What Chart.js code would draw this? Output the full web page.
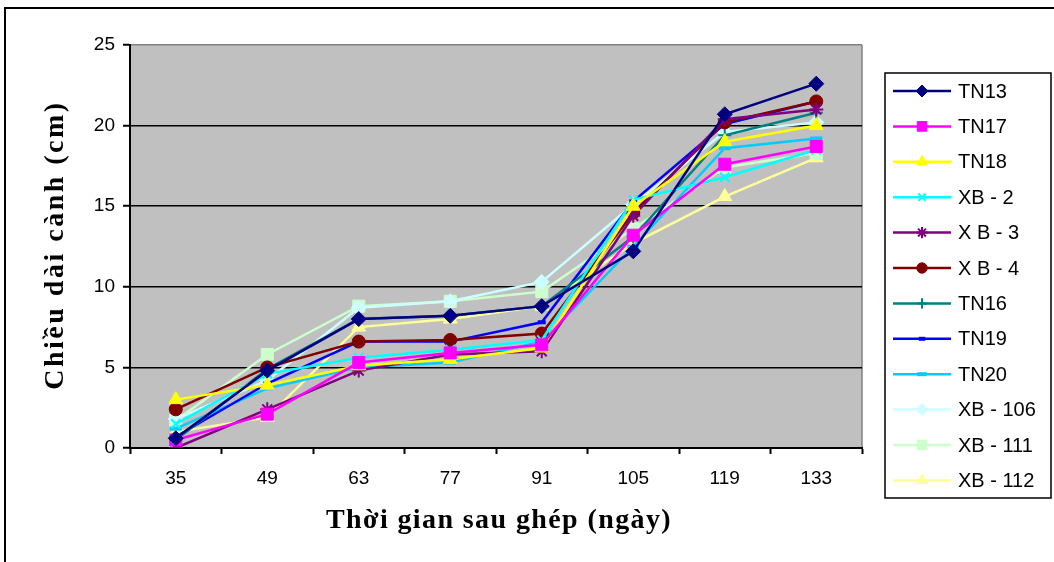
<!DOCTYPE html>
<html>
<head>
<meta charset="utf-8">
<script src="https://cdn.jsdelivr.net/npm/chart.js@4/dist/chart.umd.min.js"></script>
<style>
  html, body { margin: 0; padding: 0; background: #fff; }
  #wrap { position: relative; width: 1054px; height: 562px; }
  #frame { position: absolute; left: 4px; top: 7px; right: -4px; bottom: -4px; border-left: 2px solid #000; border-top: 2px solid #000; }
  canvas { position: absolute; left: 0; top: 0; }
</style>
</head>
<body>
<div id="wrap">
  <div id="frame"></div>
  <canvas id="chart" width="1054" height="562"></canvas>
</div>
<script>
const days = ['35', '49', '63', '77', '91', '105', '119', '133'];
const xTitle = 'Thời gian sau ghép (ngày)';
const yTitle = 'Chiều dài cành (cm)';

const tn13 = [0.6, 4.8, 8.0, 8.2, 8.8, 12.2, 20.7, 22.6];
const tn17 = [0.5, 2.1, 5.3, 5.9, 6.4, 13.2, 17.6, 18.7];
const tn18 = [3.0, 3.9, 5.1, 5.5, 6.2, 15.0, 19.0, 20.0];
const xb2 = [1.5, 4.6, 5.6, 6.1, 6.7, 15.4, 16.8, 18.5];
const xb3 = [0.0, 2.4, 4.8, 5.8, 6.0, 14.4, 20.4, 21.0];
const xb4 = [2.4, 5.0, 6.6, 6.7, 7.1, 14.6, 20.2, 21.5];
const tn16 = [0.5, 4.9, 8.0, 8.2, 8.8, 13.1, 19.4, 20.8];
const tn19 = [0.7, 4.0, 6.6, 6.6, 7.8, 15.3, 20.1, 21.5];
const tn20 = [1.2, 3.7, 5.0, 5.3, 6.6, 12.5, 18.6, 19.2];
const xb106 = [1.8, 4.2, 8.7, 9.1, 10.3, 15.1, 19.6, 20.2];
const xb111 = [1.7, 5.8, 8.8, 9.1, 9.7, 13.6, 17.4, 18.3];
const xb112 = [1.0, 1.9, 7.5, 8.0, 8.8, 12.7, 15.6, 18.0];

function series(label, data, color, style, radius, markLine) {
  return {
    label: label,
    data: data,
    borderColor: color,
    backgroundColor: color,
    borderWidth: 2.5,
    pointStyle: style,
    pointRadius: radius,
    pointBorderWidth: markLine,
    pointBackgroundColor: color,
    pointBorderColor: color,
    tension: 0
  };
}

const datasets = [
  series('TN13', tn13, '#000080', 'rectRot', 7.5, 1),
  series('TN17', tn17, '#FF00FF', 'rect', 8.5, 1),
  series('TN18', tn18, '#FFFF00', 'triangle', 8, 1),
  series('XB - 2', xb2, '#00FFFF', 'crossRot', 6.5, 2),
  series('X B - 3', xb3, '#800080', 'star', 7, 2),
  series('X B - 4', xb4, '#800000', 'circle', 6.5, 1),
  series('TN16', tn16, '#008080', 'cross', 6.5, 2),
  series('TN19', tn19, '#0000FF', 'line', 4, 4),
  series('TN20', tn20, '#00CCFF', 'line', 6, 4),
  series('XB - 106', xb106, '#CCFFFF', 'rectRot', 7.5, 1),
  series('XB - 111', xb111, '#CCFFCC', 'rect', 8.5, 1),
  series('XB - 112', xb112, '#FFFF99', 'triangle', 8, 1)
];

// gray plot background
const plotBg = {
  id: 'plotBg',
  beforeDraw(chart) {
    const { ctx, chartArea: a } = chart;
    ctx.save();
    ctx.fillStyle = '#C0C0C0';
    ctx.fillRect(a.left, a.top, a.right - a.left, a.bottom - a.top);
    ctx.strokeStyle = '#808080';
    ctx.lineWidth = 1.5;
    ctx.beginPath();
    ctx.moveTo(a.right, a.top);
    ctx.lineTo(a.right, a.bottom);
    ctx.stroke();
    ctx.restore();
  }
};

// axis titles, spaced out like the original
const axisTitles = {
  id: 'axisTitles',
  afterDraw(chart) {
    const ctx = chart.ctx;
    ctx.save();
    ctx.fillStyle = '#000';
    ctx.textAlign = 'center';
    ctx.textBaseline = 'alphabetic';
    ctx.font = 'bold 28px "Liberation Serif", "Times New Roman", serif';
    ctx.letterSpacing = '1.4px';
    ctx.fillText(xTitle, 499, 528);
    ctx.translate(63, 245);
    ctx.rotate(-Math.PI / 2);
    ctx.letterSpacing = '2.5px';
    ctx.fillText(yTitle, 0, 0);
    ctx.restore();
  }
};

// legend box with line + marker samples
const sideLegend = {
  id: 'sideLegend',
  afterDraw(chart) {
    const ctx = chart.ctx;
    ctx.save();
    ctx.strokeStyle = '#000';
    ctx.lineWidth = 1.5;
    ctx.strokeRect(885, 73, 166, 425);
    ctx.font = '20px "Liberation Sans", Arial, sans-serif';
    ctx.textBaseline = 'middle';
    chart.data.datasets.forEach((ds, i) => {
      const y = 91 + i * 35.4;
      ctx.strokeStyle = ds.borderColor;
      ctx.lineWidth = 2.5;
      ctx.beginPath();
      ctx.moveTo(893, y);
      ctx.lineTo(951, y);
      ctx.stroke();
      ctx.save();
      ctx.fillStyle = ds.pointBackgroundColor;
      ctx.strokeStyle = ds.pointBorderColor;
      ctx.lineWidth = ds.pointBorderWidth;
      Chart.helpers.drawPoint(ctx, {
        pointStyle: ds.pointStyle,
        radius: ds.pointRadius * 0.8,
        rotation: 0,
        borderWidth: ds.pointBorderWidth
      }, 922, y);
      ctx.restore();
      ctx.fillStyle = '#000';
      ctx.fillText(ds.label, 958, y + 1);
    });
    ctx.restore();
  }
};

new Chart(document.getElementById('chart').getContext('2d'), {
  type: 'line',
  data: { labels: days, datasets: datasets },
  plugins: [plotBg, axisTitles, sideLegend],
  options: {
    responsive: false,
    animation: false,
    layout: { padding: { left: 0, right: 192, top: 45, bottom: 0 } },
    plugins: {
      legend: { display: false },
      tooltip: { enabled: false }
    },
    scales: {
      x: {
        offset: true,
        afterFit(scale) { scale.height = 114; },
        grid: {
          offset: true,
          drawOnChartArea: false,
          drawTicks: true,
          tickLength: 6,
          tickWidth: 2,
          tickColor: '#000'
        },
        border: { color: '#000', width: 2 },
        ticks: {
          color: '#000',
          padding: 13,
          font: { family: '"Liberation Sans", Arial, sans-serif', size: 19 }
        }
      },
      y: {
        min: 0,
        max: 25,
        afterFit(scale) { scale.width = 130; },
        grid: {
          color: ctx => (ctx.tick && ctx.tick.value === 25 ? '#808080' : '#000'),
          lineWidth: 1.5,
          tickLength: 7,
          tickColor: '#000',
          tickWidth: 2
        },
        border: { color: '#000', width: 2 },
        ticks: {
          stepSize: 5,
          color: '#000',
          padding: 8,
          font: { family: '"Liberation Sans", Arial, sans-serif', size: 19 }
        }
      }
    }
  }
});
</script>
</body>
</html>
